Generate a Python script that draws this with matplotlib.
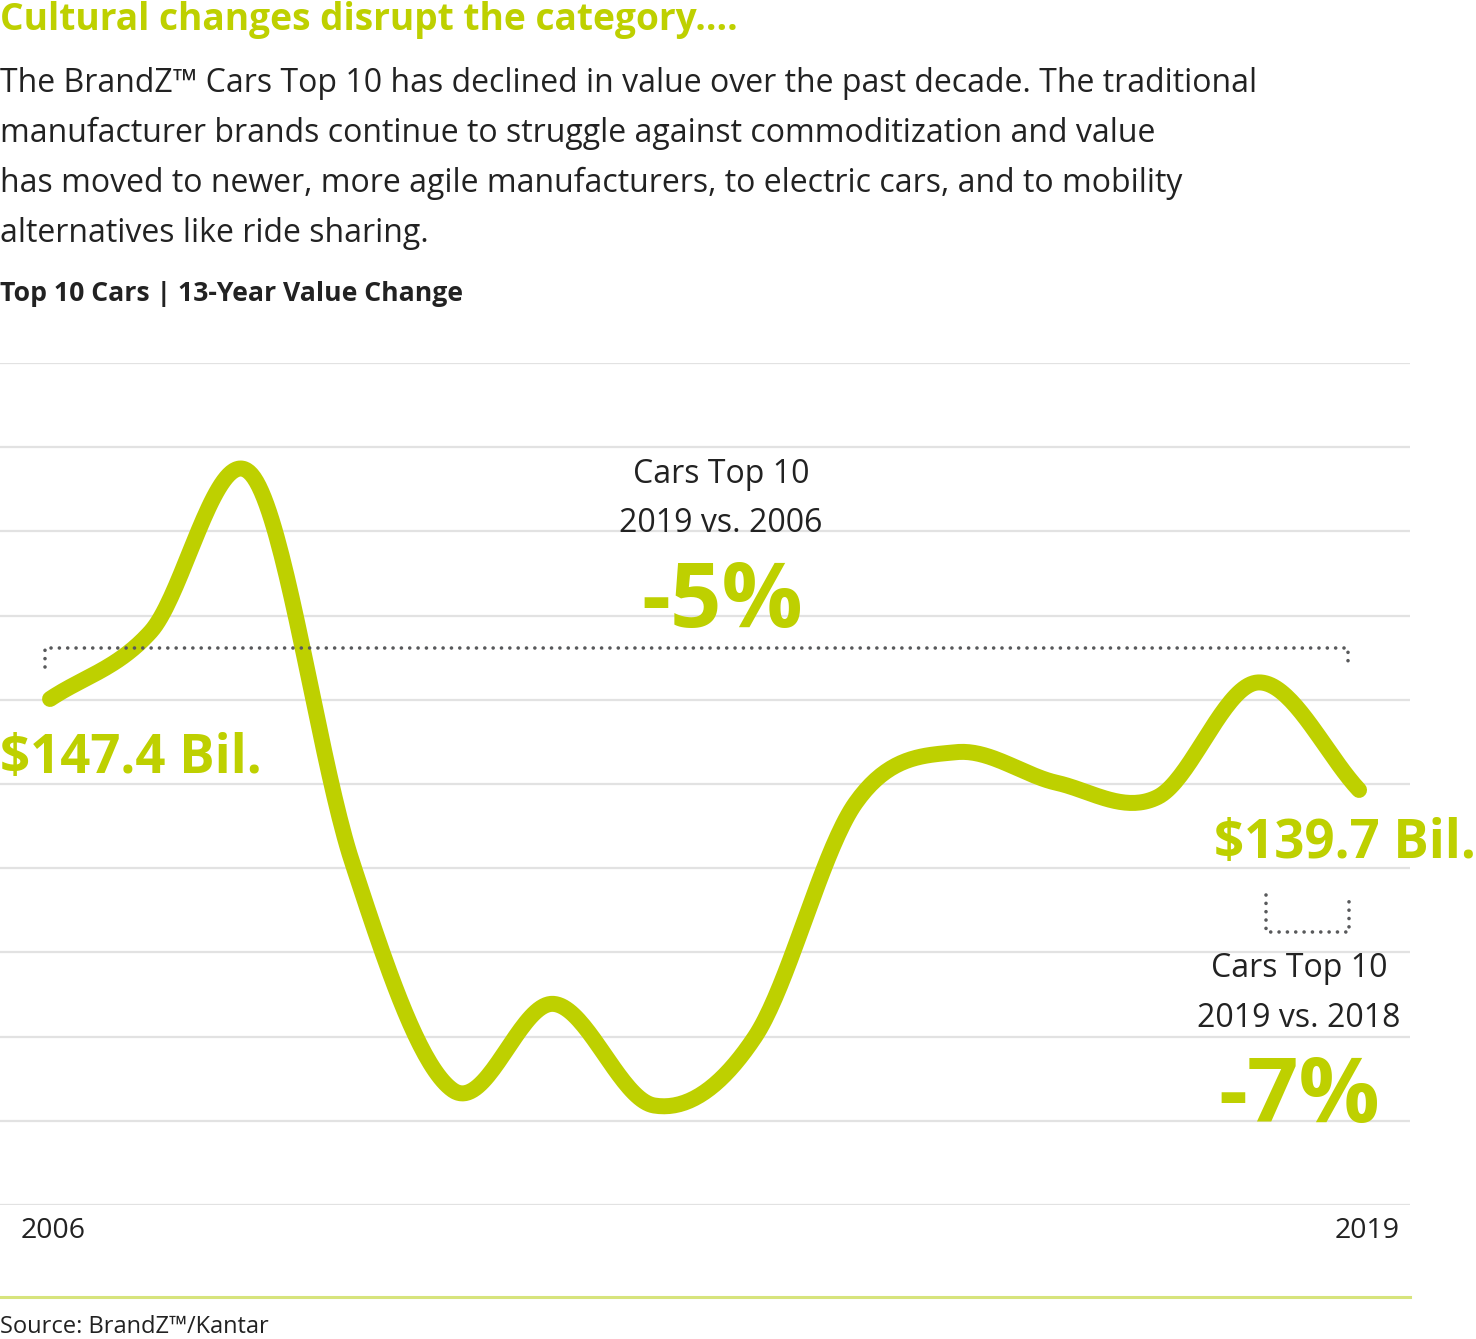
import numpy as np
import matplotlib.pyplot as plt
import matplotlib.transforms as mtransforms

# Top 10 Cars brand value (US$ bil.)
years = list(range(2006, 2020))
values = [147.4, 153.1, 166.4, 133.6, 114.3, 121.6, 113.0, 118.8,
          138.6, 142.9, 140.3, 139.1, 148.8, 139.7]
tick_years = [2006, 2019]

title = "Cultural changes disrupt the category...."
body = ["The BrandZ\u2122 Cars Top 10 has declined in value over the past decade. The traditional",
        "manufacturer brands continue to struggle against commoditization and value",
        "has moved to newer, more agile manufacturers, to electric cars, and to mobility",
        "alternatives like ride sharing."]
subtitle = "Top 10 Cars | 13-Year Value Change"
source = "Source: BrandZ\u2122/Kantar"

GREEN = '#bed000'
DARK = '#222222'
GRID = '#e2e2e2'
DOTS = '#58595b'

plt.rcParams['font.family'] = ['Open Sans', 'DejaVu Sans']


def smooth(x, y, n=40):
    # Catmull-Rom curve through the data points, only for drawing
    pts = np.column_stack([x, y]).astype(float)
    pts = np.vstack([2 * pts[0] - pts[1], pts, 2 * pts[-1] - pts[-2]])
    out = []
    t = np.linspace(0, 1, n, endpoint=False)[:, None]
    for i in range(1, len(pts) - 2):
        p0, p1, p2, p3 = pts[i - 1:i + 3]
        out.append(0.5 * (2 * p1 + (-p0 + p2) * t
                          + (2 * p0 - 5 * p1 + 4 * p2 - p3) * t ** 2
                          + (-p0 + 3 * p1 - 3 * p2 + p3) * t ** 3))
    out.append(pts[-2][None])
    out = np.vstack(out)
    return out[:, 0], out[:, 1]


W, H = 1476, 1339
fig = plt.figure(figsize=(W / 100, H / 100), dpi=100)

# chart area
ax = fig.add_axes([0, (H - 1205) / H, 1410 / W, (1205 - 363) / H])
ax.set_xlim(2005.503, 2019.506)
ax.set_ylim(104.58, 175.83)
ax.set_yticks(104.58 + 7.125 * np.arange(11))
ax.grid(axis='y', color=GRID, linewidth=1.6)
ax.set_axisbelow(True)
for s in ax.spines.values():
    s.set_visible(False)
ax.set_xticks([])
ax.tick_params(axis='y', length=0, labelleft=False)

# first / last year labels, nudged right a little like the original
blend = mtransforms.blended_transform_factory(ax.transData, ax.transAxes)
for yr, nudge in zip(tick_years, [2.5, 6]):
    tr = blend + mtransforms.ScaledTranslation(nudge / 72, 0, fig.dpi_scale_trans)
    ax.text(yr, -0.0392, str(yr), transform=tr, fontsize=20.5, color=DARK,
            ha='center', va='baseline')

sx, sy = smooth(years, values)
ax.plot(sx, sy, color=GREEN, linewidth=11.5, solid_capstyle='round',
        solid_joinstyle='round', zorder=3)

# overlay in pixel coordinates for texts and brackets
ov = fig.add_axes([0, 0, 1, 1], facecolor='none')
ov.set_xlim(0, W)
ov.set_ylim(H, 0)
ov.axis('off')

ov.text(0, 30, title, fontsize=26.7, fontweight='bold', color=GREEN, va='baseline')
for i, line in enumerate(body):
    ov.text(0, 92 + 50 * i, line, fontsize=23, color=DARK, va='baseline')
ov.text(0, 301, subtitle, fontsize=19.2, fontweight='bold', color=DARK, va='baseline')

# 2019 vs 2006 callout
ov.text(721, 483, "Cars Top 10", fontsize=23, color=DARK, ha='center', va='baseline')
ov.text(721, 532, "2019 vs. 2006", fontsize=23, color=DARK, ha='center', va='baseline')
ov.text(722, 627, "-5%", fontsize=65, fontweight='bold', color=GREEN, ha='center',
        va='baseline')

dot = dict(color=DOTS, linewidth=2.6, linestyle=(0, (0.01, 2.3)),
           dash_capstyle='round', zorder=5)
ov.plot([45, 45, 1348, 1348], [667, 648, 648, 668], **dot)

ov.text(0, 773, "$%.1f Bil." % values[0], fontsize=38, fontweight='bold', color=GREEN,
        va='baseline')
ov.text(1476, 858, "$%.1f Bil." % values[-1], fontsize=38, fontweight='bold', color=GREEN,
        ha='right', va='baseline')

# 2019 vs 2018 callout
ov.plot([1266, 1266, 1349, 1349], [895, 932, 932, 895], **dot)
ov.text(1299, 977, "Cars Top 10", fontsize=23, color=DARK, ha='center', va='baseline')
ov.text(1299, 1027, "2019 vs. 2018", fontsize=23, color=DARK, ha='center', va='baseline')
ov.text(1299, 1122, "-7%", fontsize=65, fontweight='bold', color=GREEN, ha='center',
        va='baseline')

ov.plot([0, 1410], [1297, 1297], color='#d7e47c', linewidth=2.2)
ov.text(0, 1333, source, fontsize=17, color=DARK, va='baseline')

fig.savefig('out.png', dpi=100)
